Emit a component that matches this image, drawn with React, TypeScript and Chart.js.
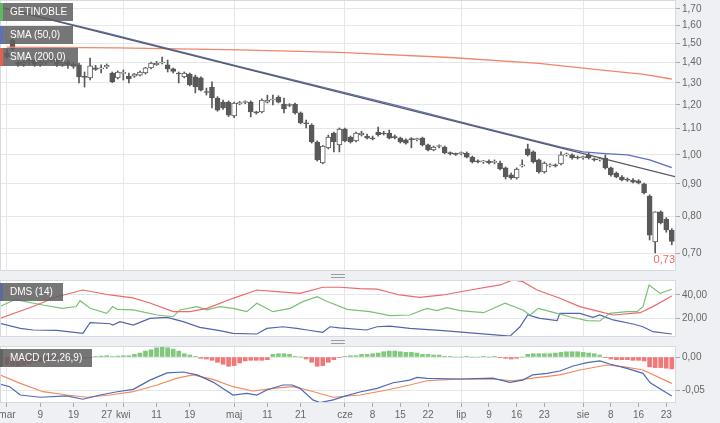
import React, { useEffect, useRef } from "react";
import { Chart, registerables } from "chart.js";

Chart.register(...registerables);

// ---------------- data ----------------
const openP = [
  1.45, 1.52, 1.40, 1.39, 1.40, 1.41, 1.39, 1.40, 1.42, 1.41,
  1.39, 1.40, 1.39, 1.387, 1.330, 1.323, 1.372, 1.367, 1.377, 1.347,
  1.323, 1.345, 1.332, 1.332, 1.337, 1.347, 1.372, 1.387, 1.397, 1.387,
  1.367, 1.347, 1.328, 1.342, 1.328, 1.323, 1.259, 1.280, 1.230, 1.212,
  1.212, 1.152, 1.205, 1.210, 1.212, 1.167, 1.169, 1.212, 1.221, 1.234,
  1.203, 1.199, 1.203, 1.165, 1.123, 1.115, 1.048, 0.971, 1.026, 1.083,
  1.037, 1.099, 1.067, 1.052, 1.075, 1.071, 1.063, 1.087, 1.083, 1.083,
  1.067, 1.063, 1.056, 1.060, 1.057, 1.063, 1.037, 1.018, 1.031, 1.029,
  1.007, 1.004, 1.005, 1.007, 0.992, 0.977, 0.975, 0.978, 0.973, 0.971,
  0.954, 0.930, 0.920, 0.961, 1.022, 1.011, 0.982, 0.940, 0.961, 0.963,
  0.968, 1.000, 1.000, 0.992, 0.990, 1.000, 0.984, 0.982, 0.989, 0.954,
  0.936, 0.923, 0.914, 0.913, 0.910, 0.900, 0.861, 0.729, 0.813, 0.792,
  0.761,
];
const highP = [
  1.47, 1.53, 1.41, 1.41, 1.43, 1.42, 1.41, 1.43, 1.43, 1.42,
  1.41, 1.41, 1.40, 1.397, 1.352, 1.422, 1.385, 1.387, 1.392, 1.352,
  1.357, 1.362, 1.347, 1.345, 1.357, 1.375, 1.402, 1.405, 1.427, 1.412,
  1.372, 1.352, 1.352, 1.347, 1.337, 1.328, 1.275, 1.304, 1.236, 1.221,
  1.217, 1.212, 1.215, 1.217, 1.217, 1.172, 1.226, 1.243, 1.243, 1.240,
  1.230, 1.205, 1.208, 1.169, 1.135, 1.120, 1.052, 1.035, 1.075, 1.087,
  1.103, 1.103, 1.071, 1.087, 1.090, 1.079, 1.071, 1.107, 1.090, 1.095,
  1.075, 1.067, 1.060, 1.065, 1.063, 1.067, 1.040, 1.033, 1.037, 1.033,
  1.011, 1.007, 1.011, 1.011, 0.996, 0.982, 0.980, 0.982, 0.982, 0.978,
  0.957, 0.936, 0.954, 0.982, 1.040, 1.015, 0.985, 0.975, 0.968, 0.968,
  1.011, 1.007, 1.004, 0.996, 0.996, 1.007, 0.989, 0.989, 1.000, 0.957,
  0.940, 0.928, 0.920, 0.918, 0.914, 0.903, 0.865, 0.813, 0.816, 0.796,
  0.765,
];
const lowP = [
  1.42, 1.46, 1.38, 1.38, 1.39, 1.38, 1.38, 1.39, 1.40, 1.38,
  1.38, 1.37, 1.37, 1.299, 1.280, 1.313, 1.360, 1.347, 1.370, 1.300,
  1.318, 1.313, 1.299, 1.326, 1.333, 1.342, 1.367, 1.385, 1.392, 1.352,
  1.347, 1.299, 1.323, 1.285, 1.253, 1.262, 1.243, 1.186, 1.172, 1.180,
  1.150, 1.145, 1.200, 1.205, 1.148, 1.160, 1.165, 1.208, 1.199, 1.208,
  1.165, 1.192, 1.160, 1.120, 1.103, 1.044, 0.978, 0.968, 1.022, 1.011,
  1.011, 1.048, 1.044, 1.048, 1.071, 1.060, 1.056, 1.071, 1.075, 1.060,
  1.060, 1.044, 1.040, 1.026, 1.052, 1.033, 1.015, 1.015, 1.026, 1.004,
  1.000, 0.998, 1.000, 0.989, 0.971, 0.971, 0.970, 0.968, 0.968, 0.947,
  0.916, 0.916, 0.916, 0.957, 0.996, 0.971, 0.936, 0.936, 0.957, 0.957,
  0.964, 0.996, 0.985, 0.985, 0.985, 0.985, 0.978, 0.978, 0.950, 0.926,
  0.920, 0.910, 0.908, 0.903, 0.900, 0.868, 0.734, 0.700, 0.778, 0.755,
  0.721,
];
const closeP = [
  1.43, 1.47, 1.39, 1.40, 1.41, 1.39, 1.40, 1.42, 1.41, 1.39,
  1.40, 1.39, 1.38, 1.328, 1.326, 1.382, 1.365, 1.372, 1.385, 1.304,
  1.352, 1.349, 1.318, 1.342, 1.352, 1.372, 1.397, 1.397, 1.400, 1.367,
  1.355, 1.342, 1.347, 1.290, 1.280, 1.266, 1.255, 1.230, 1.177, 1.186,
  1.156, 1.208, 1.208, 1.212, 1.169, 1.165, 1.221, 1.221, 1.224, 1.212,
  1.182, 1.197, 1.165, 1.123, 1.120, 1.048, 0.982, 1.033, 1.067, 1.048,
  1.099, 1.052, 1.048, 1.083, 1.083, 1.063, 1.060, 1.075, 1.079, 1.063,
  1.065, 1.048, 1.044, 1.057, 1.060, 1.037, 1.018, 1.029, 1.033, 1.007,
  1.005, 1.002, 1.007, 0.992, 0.975, 0.975, 0.977, 0.971, 0.976, 0.950,
  0.923, 0.920, 0.950, 0.964, 1.000, 0.975, 0.940, 0.971, 0.963, 0.961,
  1.000, 1.002, 0.989, 0.989, 0.992, 0.989, 0.982, 0.984, 0.954, 0.930,
  0.923, 0.913, 0.912, 0.906, 0.903, 0.871, 0.747, 0.813, 0.781, 0.761,
  0.730,
];

// [day index, value]
const sma50Pts = [
  [0, 1.700], [17, 1.566], [42, 1.379], [71, 1.193], [85, 1.109],
  [100, 1.029], [104, 1.011], [108, 1.005], [112, 1.000], [116, 0.982], [120, 0.955],
];
const sma200Pts = [
  [0, 1.480], [20, 1.476], [42, 1.465], [60, 1.452], [80, 1.425],
  [96, 1.395], [107, 1.362], [115, 1.340], [120, 1.318],
];
const trendPts = [[-1.26, 1.712], [120.76, 0.923]];

const dmsAdx = [
  [-1.3, 19.7], [4.7, 30], [9, 38.5], [13.7, 44.3], [18.6, 40], [22.7, 37.4],
  [25.8, 33], [30, 25.5], [33, 25.5], [36.1, 28.4], [40.8, 37.1], [45.1, 44.3],
  [48.7, 42.9], [52.9, 41.4], [57, 46.7], [60.1, 46.7], [63.7, 45.5], [66.8, 45],
  [70.9, 40], [74.5, 38], [78.7, 40], [83.6, 44.3], [89, 48.7], [91.3, 53],
  [93.1, 51.6], [95.7, 44.3], [99.8, 37.1], [103.4, 29.9], [107, 25.5],
  [109.4, 22.6], [114.3, 24.6], [116.6, 29.9], [120, 39.1],
];
const dmsPlus = [
  [-1.3, 30], [1.5, 36], [6.5, 31.3], [10, 28.4], [12.5, 30], [13.2, 35],
  [15, 28.4], [18, 24], [19.1, 29.9], [19.9, 27.5], [22.8, 27], [27.1, 22.6],
  [30, 21.1], [31.2, 27], [34.3, 29.9], [36.1, 27], [38.4, 29.9], [40.8, 28.4],
  [43.3, 25.5], [45.1, 32.8], [48, 25.5], [51.1, 28.4], [53.4, 34.2], [56, 38.5],
  [57.5, 35], [61.4, 27.5], [65.5, 25.5], [69.1, 22], [72.7, 22.6], [75.8, 28.4],
  [77.6, 26.4], [79.4, 29], [81.8, 26.4], [86, 24.6], [89.9, 32.8], [93.1, 27],
  [94.4, 22.6], [95.9, 28.4], [99.3, 24], [101.6, 21.1], [104.7, 17.7],
  [107, 17.4], [108.8, 24], [111.9, 25.5], [113.7, 25.5], [114.8, 29.9],
  [115.9, 48.7], [117.9, 41.4], [120, 45],
];
const dmsMinus = [
  [-1.3, 15.4], [2.4, 11], [4.7, 9.6], [9, 9.3], [13.7, 6.7], [15, 15.9],
  [18.6, 15], [19.1, 13.9], [20.4, 16.8], [22.8, 13.9], [25.8, 19.7],
  [28.9, 20.6], [31.8, 16.8], [34.8, 11.9], [38.4, 9], [40.8, 6.7], [45.1, 6.1],
  [46.9, 11], [49.8, 12.4], [52.3, 11], [54.2, 9.6], [57, 7.6], [58.3, 12.4],
  [60, 11.5], [64.9, 9.6], [66.8, 12.4], [69.1, 13], [72.7, 11], [78.7, 9],
  [84.8, 6.7], [90.8, 4.3], [92.6, 12.4], [94, 22.6], [96.2, 19.7], [99.3, 17.7],
  [99.8, 24], [103.4, 24], [105.8, 20.6], [107, 22.6], [109.4, 18.3], [113, 14.8],
  [114.8, 12.4], [116.6, 8.1], [120, 6.1],
];

const macdLine = [
  [-1.3, -0.041], [0.5, -0.045], [2.4, -0.0576], [6, -0.061], [10.8, -0.059],
  [13.7, -0.064], [16.8, -0.0576], [19.9, -0.0526], [22.8, -0.049], [25.8, -0.035],
  [28.9, -0.024], [31.8, -0.0227], [34.3, -0.027], [37.2, -0.038], [40.8, -0.0576],
  [43.3, -0.055], [45.1, -0.0576], [46.9, -0.050], [49.8, -0.0424], [51.5, -0.0424],
  [52.9, -0.0475], [55.2, -0.065], [56.5, -0.069], [58.9, -0.065], [60.7, -0.060],
  [63.7, -0.053], [66.8, -0.0475], [69.7, -0.039], [72.7, -0.035], [74, -0.031],
  [75.8, -0.0325], [81.8, -0.0333], [87.7, -0.032], [90.8, -0.0384], [93.1, -0.035],
  [94.9, -0.027], [97.5, -0.0248], [99.8, -0.0212], [102.2, -0.0136], [104.7, -0.0086],
  [107, -0.006], [108.8, -0.0106], [111.9, -0.0172], [114.8, -0.0248], [116.1, -0.039],
  [120, -0.059],
];
const macdSignal = [
  [-1.3, -0.027], [2.4, -0.040], [6.5, -0.0526], [10.8, -0.0576], [14.4, -0.061],
  [18.6, -0.0576], [22.8, -0.0526], [27.1, -0.0424], [30.7, -0.032], [33.6, -0.027],
  [37.2, -0.034], [40.8, -0.045], [44.4, -0.0515], [48, -0.0475], [51.6, -0.045],
  [54.2, -0.050], [58.9, -0.061], [63.7, -0.0576], [68.6, -0.050], [72.7, -0.0424],
  [75.8, -0.036], [81.2, -0.0335], [87.7, -0.0333], [91.3, -0.036], [94.9, -0.032],
  [99.8, -0.027], [103.4, -0.0197], [108.3, -0.0121], [111.2, -0.0147],
  [114.8, -0.0197], [120, -0.040],
];
const macdHist = [
  -0.012, -0.013, -0.014, -0.012, -0.010, -0.008, -0.007, -0.005, -0.004, -0.002,
  -0.001, 0.000, -0.001, -0.002, -0.002, -0.001, 0.001, 0.0015, 0.002, 0.001,
  0.0015, 0.002, 0.002, 0.004, 0.006, 0.009, 0.011, 0.014, 0.015, 0.014,
  0.012, 0.009, 0.005, 0.003, 0.001, -0.002, -0.003, -0.005, -0.008, -0.011,
  -0.014, -0.013, -0.009, -0.006, -0.005, -0.005, -0.005, -0.004, 0.004, 0.005,
  0.005, 0.004, 0.001, 0.000, -0.003, -0.008, -0.014, -0.013, -0.008, -0.004,
  -0.001, 0.001, 0.002, 0.002, 0.004, 0.004, 0.005, 0.006, 0.008, 0.009,
  0.009, 0.008, 0.007, 0.007, 0.006, 0.004, 0.004, 0.003, 0.003, 0.001,
  0.001, 0.000, 0.000, 0.001, 0.000, 0.000, 0.001, 0.000, 0.001, -0.001,
  -0.002, -0.003, -0.002, 0.000, 0.004, 0.005, 0.005, 0.005, 0.005, 0.006,
  0.007, 0.008, 0.008, 0.008, 0.007, 0.006, 0.005, 0.003, -0.001, -0.003,
  -0.004, -0.004, -0.004, -0.005, -0.005, -0.006, -0.015, -0.016, -0.016, -0.017,
  -0.018,
];

const monthIdx = [0, 21, 41, 61, 82, 104];
const xTickIdx = [0, 6, 12, 18, 21, 27, 33, 41, 47, 53, 61, 66, 71, 76, 82, 87, 92, 97, 104, 109, 114, 119];
const xTickText = ["mar", "9", "19", "27", "kwi", "11", "19", "maj", "11", "21", "cze", "8", "15", "22", "lip", "9", "16", "23", "sie", "8", "16", "23"];
const priceTicks = [0.7, 0.8, 0.9, 1.0, 1.1, 1.2, 1.3, 1.4, 1.5, 1.6, 1.7];
const dmsTicks = [20, 40];
const macdTicks = [-0.05, 0];

// ---------------- styling ----------------
const W = 720;
const AXIS_W = 44;
const X_MIN = -1.26;
const X_MAX = 120.76;
const BG = "#eef0f3";
const GRID = "#e6e7e9";
const TXT = "#666";
const DARK = "#595959";
const FONT = { family: "'Liberation Sans', Arial, sans-serif", size: 10 };
const fmt = (v: number) => v.toFixed(2).replace(".", ",");
const pts = (a: number[][]) => a.map(([x, y]) => ({ x, y }));

const panelPlugin = {
  id: "panelBg",
  beforeDraw(chart: any) {
    const { ctx, chartArea: a } = chart;
    ctx.save();
    ctx.fillStyle = "#fff";
    ctx.fillRect(a.left, a.top, a.right - a.left, a.bottom - a.top);
    ctx.restore();
  },
  afterDraw(chart: any) {
    const { ctx, chartArea: a } = chart;
    ctx.save();
    ctx.strokeStyle = "#d6dae0";
    ctx.lineWidth = 1;
    ctx.strokeRect(a.left + 0.5, a.top + 0.5, a.right - a.left - 1, a.bottom - a.top - 1);
    ctx.restore();
  },
};

const lastPricePlugin = {
  id: "lastPrice",
  afterDatasetsDraw(chart: any) {
    const { ctx, chartArea: a } = chart;
    ctx.save();
    ctx.fillStyle = "#f06a6a";
    ctx.font = "11px 'Liberation Sans', Arial, sans-serif";
    ctx.textAlign = "right";
    ctx.textBaseline = "middle";
    ctx.fillText(fmt(closeP[closeP.length - 1]), a.right - 1, a.bottom - 11);
    ctx.restore();
  },
};

function xScale(showLabels: boolean) {
  return {
    type: "linear",
    min: X_MIN,
    max: X_MAX,
    bounds: "data",
    offset: false,
    afterBuildTicks: (s: any) => {
      s.ticks = (showLabels ? xTickIdx : monthIdx).map((v) => ({ value: v }));
    },
    afterFit: (s: any) => {
      s.height = showLabels ? 20 : 0;
      s.paddingLeft = 0;
      s.paddingRight = 0;
    },
    grid: {
      offset: false,
      color: (c: any) => (c.tick && monthIdx.includes(c.tick.value) ? GRID : "rgba(0,0,0,0)"),
      drawTicks: showLabels,
      tickLength: 4,
      tickColor: "#a8a8a8",
    },
    border: { display: false },
    ticks: {
      display: showLabels,
      autoSkip: false,
      maxRotation: 0,
      padding: 2,
      color: TXT,
      font: FONT,
      callback: (v: number, i: number) => xTickText[i],
    },
  };
}

function yScale(type: string, min: number, max: number, ticks: number[]) {
  return {
    type,
    position: "right",
    min,
    max,
    bounds: "data",
    afterBuildTicks: (s: any) => {
      s.ticks = ticks.map((v) => ({ value: v }));
    },
    afterFit: (s: any) => {
      s.width = AXIS_W;
      s.paddingTop = 0;
      s.paddingBottom = 0;
    },
    grid: { color: GRID, tickLength: 4, tickColor: "#a8a8a8" },
    border: { display: false },
    ticks: { padding: 2, color: TXT, font: FONT, callback: (v: number) => fmt(v) },
  };
}

const baseOpts = {
  responsive: false,
  animation: false,
  events: [],
  layout: { padding: 0 },
  plugins: { legend: { display: false }, tooltip: { enabled: false } },
};

const lineDs = (data: number[][], color: string, width = 1.2, order = 0) => ({
  type: "line",
  data: pts(data),
  borderColor: color,
  borderWidth: width,
  pointRadius: 0,
  tension: 0,
  fill: false,
  order,
});

const Tag = ({ top, width, color, text }: any) => (
  <div
    style={{
      position: "absolute",
      left: 0,
      top,
      width,
      height: 18,
      boxSizing: "border-box",
      background: "rgba(96,96,96,0.86)",
      borderLeft: `3px solid ${color}`,
      color: "#fff",
      fontFamily: "'Liberation Sans', Arial, sans-serif",
      fontSize: 10,
      lineHeight: "18px",
      paddingLeft: 7,
      whiteSpace: "nowrap",
      overflow: "hidden",
      zIndex: 5,
    }}
  >
    {text}
  </div>
);

const Handle = ({ top }: { top: number }) => (
  <div
    style={{
      position: "absolute",
      left: 331,
      top,
      width: 14,
      height: 4,
      boxSizing: "border-box",
      borderTop: "1px solid #9c9c9c",
      borderBottom: "1px solid #9c9c9c",
    }}
  />
);

export default function App() {
  const mainRef = useRef<HTMLCanvasElement>(null);
  const dmsRef = useRef<HTMLCanvasElement>(null);
  const macdRef = useRef<HTMLCanvasElement>(null);

  useEffect(() => {
    const idx = closeP.map((_, i) => i);
    const isUp = (i: number) => closeP[i] >= openP[i];

    const main = new Chart(mainRef.current as HTMLCanvasElement, {
      type: "bar",
      data: {
        datasets: [
          lineDs(trendPts, "#555a60", 1.2, 0),
          lineDs(sma50Pts, "#5c70c0", 1.3, 0),
          lineDs(sma200Pts, "#f0866a", 1.3, 0),
          {
            type: "bar",
            data: idx.map((i) => ({ x: i, y: [openP[i], closeP[i]] })),
            backgroundColor: (c: any) => (isUp(c.dataIndex) ? "#ffffff" : DARK),
            borderColor: DARK,
            borderWidth: 1,
            borderSkipped: false,
            barThickness: 5,
            minBarLength: 1,
            grouped: false,
            order: 1,
          },
          {
            type: "bar",
            data: idx.map((i) => ({ x: i, y: [lowP[i], highP[i]] })),
            backgroundColor: DARK,
            borderWidth: 0,
            barThickness: 1,
            grouped: false,
            order: 2,
          },
        ] as any,
      },
      options: {
        ...baseOpts,
        scales: {
          x: xScale(false),
          y: yScale("logarithmic", 0.6557, 1.7565, priceTicks),
        },
      } as any,
      plugins: [panelPlugin, lastPricePlugin],
    });

    const dms = new Chart(dmsRef.current as HTMLCanvasElement, {
      type: "line",
      data: {
        datasets: [
          lineDs(dmsAdx, "#ec6a6a", 1.2),
          lineDs(dmsPlus, "#79c175", 1.2),
          lineDs(dmsMinus, "#5066ad", 1.2),
        ] as any,
      },
      options: {
        ...baseOpts,
        scales: { x: xScale(false), y: yScale("linear", 3.5, 53, dmsTicks) },
      } as any,
      plugins: [panelPlugin],
    });

    const macd = new Chart(macdRef.current as HTMLCanvasElement, {
      type: "bar",
      data: {
        datasets: [
          lineDs(macdLine, "#4d6ab5", 1.2, 0),
          lineDs(macdSignal, "#f28a60", 1.2, 0),
          {
            type: "bar",
            data: macdHist.map((v, i) => ({ x: i, y: v })),
            backgroundColor: macdHist.map((v) => (v >= 0 ? "#80c97c" : "#f07878")),
            borderWidth: 0,
            barThickness: 4,
            grouped: false,
            order: 1,
          },
        ] as any,
      },
      options: {
        ...baseOpts,
        scales: { x: xScale(true), y: yScale("linear", -0.0697, 0.0167, macdTicks) },
      } as any,
      plugins: [panelPlugin],
    });

    return () => {
      main.destroy();
      dms.destroy();
      macd.destroy();
    };
  }, []);

  return (
    <div
      style={{
        position: "fixed",
        left: 0,
        top: 0,
        width: W,
        height: 423,
        background: BG,
        overflow: "hidden",
      }}
    >
      <canvas ref={mainRef} width={W} height={271} style={{ position: "absolute", left: 0, top: 0 }} />
      <canvas ref={dmsRef} width={W} height={57} style={{ position: "absolute", left: 0, top: 280 }} />
      <canvas ref={macdRef} width={W} height={77} style={{ position: "absolute", left: 0, top: 346 }} />
      <Handle top={274} />
      <Handle top={340} />
      <Tag top={3} width={73} color="#5cb85c" text="GETINOBLE" />
      <Tag top={26} width={73} color="#5c70c0" text="SMA (50,0)" />
      <Tag top={48} width={78} color="#e8604c" text="SMA (200,0)" />
      <Tag top={283} width={63} color="#5b6b95" text="DMS (14)" />
      <Tag top={349} width={92} color="rgba(96,96,96,0.86)" text="MACD (12,26,9)" />
    </div>
  );
}
